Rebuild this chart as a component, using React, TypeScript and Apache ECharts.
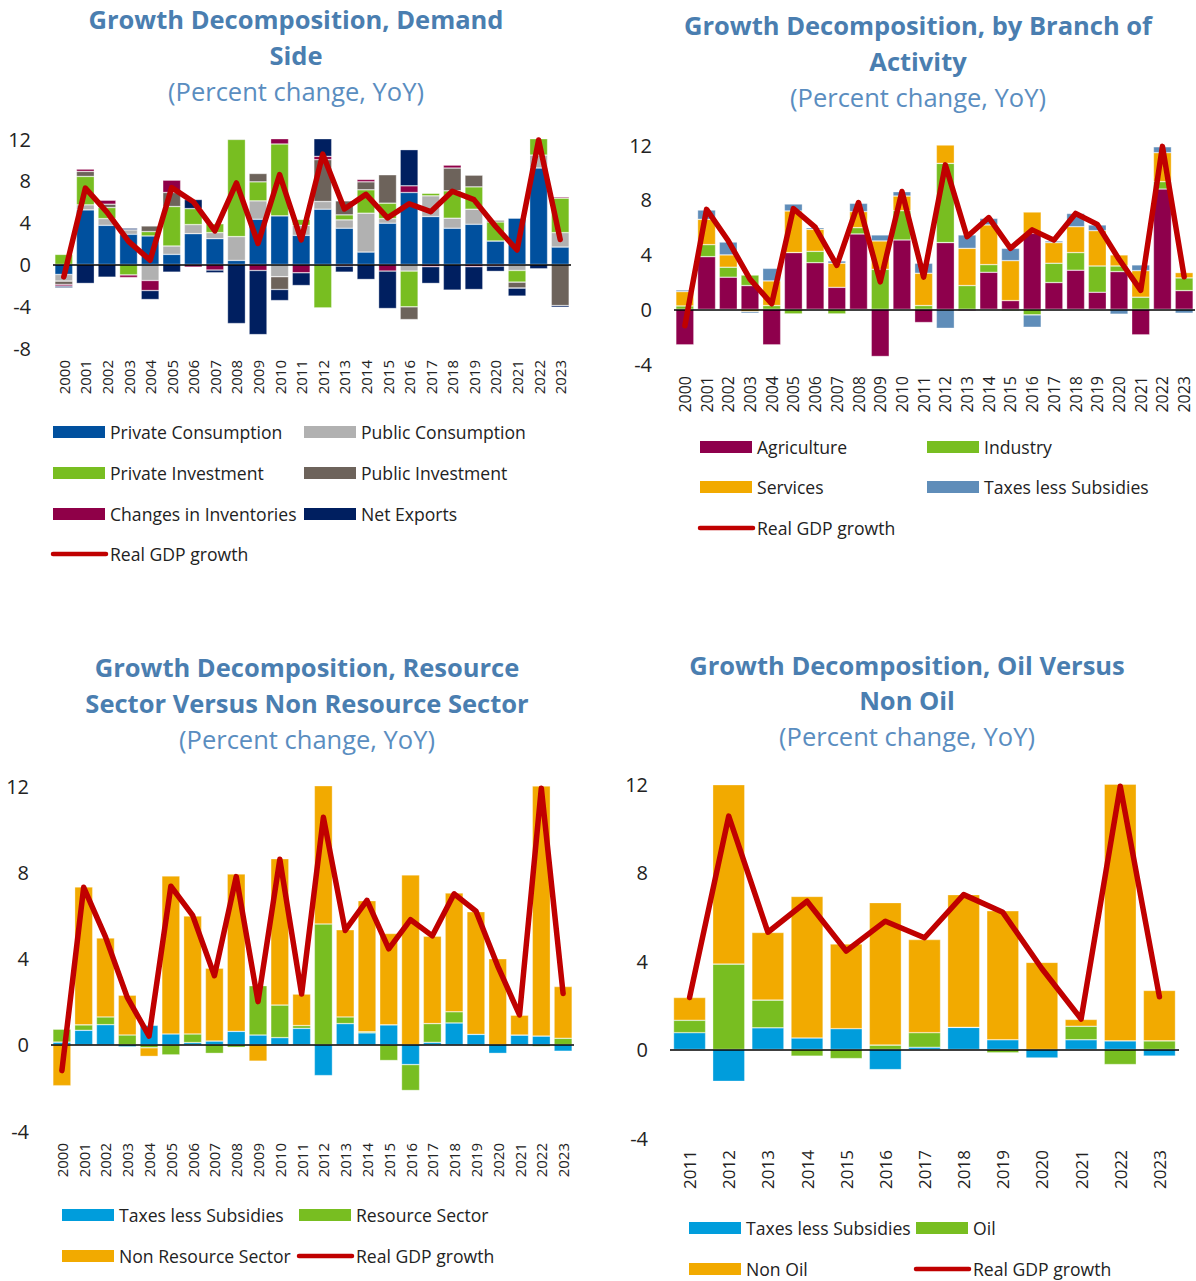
import React, { useEffect, useRef } from "react";
import * as echarts from "echarts";

const years = ["2000","2001","2002","2003","2004","2005","2006","2007","2008","2009","2010","2011","2012","2013","2014","2015","2016","2017","2018","2019","2020","2021","2022","2023"];
const yearsOil = ["2011","2012","2013","2014","2015","2016","2017","2018","2019","2020","2021","2022","2023"];

const gdpGrowth = [-1.2, 7.3, 5.0, 2.2, 0.4, 7.35, 6.0, 3.2, 7.8, 2.0, 8.6, 2.35, 10.55, 5.3, 6.7, 4.45, 5.8, 5.05, 7.0, 6.2, 3.65, 1.38, 11.9, 2.38];
const gdpGrowthOil = [2.35, 10.55, 5.3, 6.7, 4.45, 5.8, 5.05, 7.0, 6.2, 3.65, 1.38, 11.9, 2.38];

// Panel 1: demand side
const privateConsumption = [-0.96, 5.22, 3.74, 2.88, 2.72, 0.96, 2.94, 2.46, 0.38, 4.32, 4.64, 2.78, 5.28, 3.46, 1.18, 3.94, 6.88, 4.58, 3.46, 3.84, 2.24, 4.42, 9.22, 1.66];
const publicConsumption = [-0.64, 0.48, 0.64, 0.42, -1.54, 0.8, 0.87, 0.58, 2.28, 1.76, -1.18, 0.96, 0.74, 0.8, 3.72, 0.44, -0.64, 1.98, 0.96, 1.44, 0, -0.58, 1.24, 1.38];
const privateInvestment = [0.96, 2.72, 1.06, -1.02, 0.42, 3.78, 1.53, 0.86, 9.3, 1.82, 6.88, 0.58, -4.16, 0.48, 2.24, 1.48, -3.42, 0.26, 2.62, 2.14, 1.82, -1.12, 1.86, 3.3];
const publicInvestment = [-0.32, 0.48, 0.32, 0, 0.54, 1.34, 0, 0, 1.5, 0.8, -1.22, 0, 4.0, 1.34, 0.76, 2.72, -1.22, 0, 2.18, 1.12, 0.16, -0.57, 0, -3.94];
const changesInInventories = [-0.16, 0.22, 0.38, -0.23, -0.96, 1.18, -0.26, -0.54, 0, -0.58, 0.54, -0.8, 0.32, -0.16, 0.23, -0.64, 0.64, -0.22, 0.28, -0.22, -0.16, 0, 0, 0.12];
const netExports = [-0.16, -1.82, -1.22, 0.16, -0.86, -0.74, 0.87, -0.26, -5.66, -6.14, -1.06, -1.22, 4.32, -0.58, -1.44, -3.58, 3.46, -1.6, -2.46, -2.18, -0.51, -0.77, -0.42, -0.16];

// Panel 2: branch of activity
const agriculture = [-2.6, 3.84, 2.34, 1.73, -2.6, 4.14, 3.4, 1.6, 5.5, -3.45, 5.06, -0.97, 4.87, -0.1, 2.7, 0.63, 5.55, 1.95, 2.85, 1.24, 2.75, -1.87, 8.78, 1.36];
const industry = [0.24, 0.88, 0.73, 0.77, 0.27, -0.34, 0.83, -0.34, 0.46, 2.92, 2.14, 0.27, 5.79, 1.73, 0.56, -0.1, -0.41, 1.41, 1.29, 1.92, 0.41, 0.88, 0.54, 0.93];
const services = [1.05, 1.85, 0.9, -0.17, 1.8, 3.04, 1.61, 1.76, 1.17, 2.07, 1.07, 2.36, 1.34, 2.72, 2.9, 2.92, 1.55, 1.51, 1.89, 2.58, 0.81, 1.94, 2.12, 0.39];
const taxesBranch = [0.12, 0.68, 0.94, -0.12, 0.92, 0.51, 0.12, 0.17, 0.61, 0.44, 0.32, 0.73, -1.39, 0.98, 0.48, 0.9, -0.9, 0.12, 0.97, 0.42, -0.36, 0.42, 0.43, -0.29];

// Panel 3: resource vs non resource
const taxesResource = [0.12, 0.67, 0.93, -0.1, 0.9, 0.5, 0.1, 0.17, 0.62, 0.45, 0.33, 0.76, -1.43, 0.98, 0.55, 0.92, -0.92, 0.11, 1.01, 0.48, -0.4, 0.45, 0.4, -0.3];
const resourceSector = [0.6, 0.25, 0.36, 0.45, -0.14, -0.47, 0.4, -0.4, -0.12, 2.29, 1.51, 0.13, 5.6, 0.31, 0.05, -0.73, -1.2, 0.87, 0.52, -0.05, -0.03, 0, -0.08, 0.3];
const nonResourceSector = [-1.9, 6.4, 3.66, 1.85, -0.4, 7.33, 5.47, 3.38, 7.3, -0.76, 6.79, 1.46, 6.46, 4.04, 6.08, 4.24, 7.88, 4.05, 5.51, 5.69, 3.99, 0.92, 11.6, 2.4];

// Panel 4: oil vs non oil
const taxesOil = [0.76, -1.44, 0.98, 0.52, 0.94, -0.91, 0.1, 1.0, 0.44, -0.39, 0.44, 0.39, -0.3];
const oil = [0.56, 3.86, 1.25, -0.3, -0.41, 0.2, 0.66, 0, -0.15, 0, 0.61, -0.68, 0.39];
const nonOil = [1.03, 8.11, 3.06, 6.4, 3.83, 6.44, 4.21, 6.0, 5.83, 3.94, 0.31, 11.6, 2.28];

const FONT = "'Open Sans', 'Noto Sans', sans-serif";
const RED = "#C00000";
const TITLE_COLOR = "#4A7EB0";
const SUB_COLOR = "#5A8DC0";

const C = {
  privCons: "#00509E",
  pubCons: "#B1B1B1",
  privInv: "#78BE21",
  pubInv: "#6D635B",
  inv: "#8F0048",
  nx: "#001F60",
  agri: "#8E004C",
  ind: "#78BE21",
  serv: "#F2AA00",
  taxB: "#5F8DB9",
  taxC: "#009DDC",
  res: "#78BE21",
  nonRes: "#F2AA00",
};

export default function App() {
  const ref = useRef<HTMLDivElement>(null);
  useEffect(() => {
    if (!ref.current) return;
    const chart = echarts.init(ref.current, undefined, { renderer: "svg" });

    const grids = [
      { left: 53, top: 139, width: 518, height: 209 },
      { left: 674, top: 145, width: 521, height: 219 },
      { left: 51, top: 786, width: 523, height: 345 },
      { left: 670, top: 784, width: 509, height: 354 },
    ];
    const mins = [-8, -4, -4, -4];
    const xFont = [15, 16, 15, 17];

    const xAxis = grids.map((g, i) => ({
      type: "category",
      gridIndex: i,
      data: i === 3 ? yearsOil : years,
      axisLine: { show: false },
      axisTick: { show: false },
      axisLabel: { rotate: 90, fontSize: xFont[i], color: "#222", fontFamily: FONT, margin: 12, interval: 0 },
    }));
    const yAxis = grids.map((g, i) => ({
      type: "value",
      gridIndex: i,
      min: mins[i],
      max: 12,
      interval: 4,
      splitLine: { show: false },
      axisLine: { show: false },
      axisTick: { show: false },
      axisLabel: { fontSize: 20, color: "#222", fontFamily: FONT, margin: 22 },
    }));

    const barBase = (name: string, data: number[], color: string, idx: number, gap = "17%") => ({
      type: "bar",
      name,
      data,
      xAxisIndex: idx,
      yAxisIndex: idx,
      stack: "s" + idx,
      barCategoryGap: gap,
      itemStyle: { color, borderColor: "rgba(255,255,255,0.55)", borderWidth: 0.6 },
      z: 2,
    });
    const lineBase = (data: number[], idx: number) => ({
      type: "line",
      name: "Real GDP growth",
      data,
      xAxisIndex: idx,
      yAxisIndex: idx,
      symbol: "none",
      lineStyle: { color: RED, width: 5.5, join: "round", cap: "round" },
      itemStyle: { color: RED },
      z: 5,
      markLine: {
        silent: true,
        symbol: ["none", "none"],
        label: { show: false },
        lineStyle: { color: "#000", width: 1.5, type: "solid" },
        data: [{ yAxis: 0 }],
        z: 4,
      },
    });

    const series: any[] = [
      barBase("Private Consumption", privateConsumption, C.privCons, 0),
      barBase("Public Consumption", publicConsumption, C.pubCons, 0),
      barBase("Private Investment", privateInvestment, C.privInv, 0),
      barBase("Public Investment", publicInvestment, C.pubInv, 0),
      barBase("Changes in Inventories", changesInInventories, C.inv, 0),
      barBase("Net Exports", netExports, C.nx, 0),
      lineBase(gdpGrowth, 0),
      barBase("Agriculture", agriculture, C.agri, 1),
      barBase("Industry", industry, C.ind, 1),
      barBase("Services", services, C.serv, 1),
      barBase("Taxes less Subsidies", taxesBranch, C.taxB, 1),
      lineBase(gdpGrowth, 1),
      barBase("Taxes less Subsidies", taxesResource, C.taxC, 2),
      barBase("Resource Sector", resourceSector, C.res, 2),
      barBase("Non Resource Sector", nonResourceSector, C.nonRes, 2),
      lineBase(gdpGrowth, 2),
      barBase("Taxes less Subsidies", taxesOil, C.taxC, 3, "18%"),
      barBase("Oil", oil, C.res, 3, "18%"),
      barBase("Non Oil", nonOil, C.nonRes, 3, "18%"),
      lineBase(gdpGrowthOil, 3),
    ];

    const graphic: any[] = [];
    const titleText = (cx: number, ys: number[], lines: string[], sub: string) => {
      lines.forEach((t, k) => {
        graphic.push({
          type: "text",
          x: cx,
          y: ys[k],
          style: { text: t, fontSize: 25.5, fontWeight: "bold", fontFamily: FONT, fill: TITLE_COLOR, textAlign: "center", textVerticalAlign: "middle", verticalAlign: "middle" },
        });
      });
      graphic.push({
        type: "text",
        x: cx,
        y: ys[lines.length],
        style: { text: sub, fontSize: 25.5, fontFamily: FONT, fill: SUB_COLOR, textAlign: "center", textVerticalAlign: "middle", verticalAlign: "middle" },
      });
    };
    titleText(296, [19, 55, 91], ["Growth Decomposition, Demand", "Side"], "(Percent change, YoY)");
    titleText(918, [25, 61, 97], ["Growth Decomposition, by Branch of", "Activity"], "(Percent change, YoY)");
    titleText(307, [667, 703, 739], ["Growth Decomposition, Resource", "Sector Versus Non Resource Sector"], "(Percent change, YoY)");
    titleText(907, [665, 700, 736], ["Growth Decomposition, Oil Versus", "Non Oil"], "(Percent change, YoY)");

    const legendItem = (x: number, y: number, label: string, color: string | null) => {
      if (color) {
        graphic.push({ type: "rect", shape: { x, y: y - 6, width: 52, height: 12 }, style: { fill: color } });
      } else {
        graphic.push({ type: "line", shape: { x1: x, y1: y, x2: x + 53, y2: y }, style: { stroke: RED, lineWidth: 4.5, lineCap: "round" } });
      }
      graphic.push({
        type: "text",
        x: x + 57,
        y,
        style: { text: label, fontSize: 17.6, fontFamily: FONT, fill: "#222", textAlign: "left", textVerticalAlign: "middle", verticalAlign: "middle" },
      });
    };
    // Panel 1 legend
    legendItem(53, 432, "Private Consumption", C.privCons);
    legendItem(304, 432, "Public Consumption", C.pubCons);
    legendItem(53, 473, "Private Investment", C.privInv);
    legendItem(304, 473, "Public Investment", C.pubInv);
    legendItem(53, 514, "Changes in Inventories", C.inv);
    legendItem(304, 514, "Net Exports", C.nx);
    legendItem(53, 554, "Real GDP growth", null);
    // Panel 2 legend
    legendItem(700, 447, "Agriculture", C.agri);
    legendItem(927, 447, "Industry", C.ind);
    legendItem(700, 487, "Services", C.serv);
    legendItem(927, 487, "Taxes less Subsidies", C.taxB);
    legendItem(700, 528, "Real GDP growth", null);
    // Panel 3 legend
    legendItem(62, 1215, "Taxes less Subsidies", C.taxC);
    legendItem(299, 1215, "Resource Sector", C.res);
    legendItem(62, 1256, "Non Resource Sector", C.nonRes);
    legendItem(299, 1256, "Real GDP growth", null);
    // Panel 4 legend
    legendItem(689, 1228, "Taxes less Subsidies", C.taxC);
    legendItem(916, 1228, "Oil", C.res);
    legendItem(689, 1269, "Non Oil", C.nonRes);
    legendItem(916, 1269, "Real GDP growth", null);

    chart.setOption({
      animation: false,
      backgroundColor: "#fff",
      textStyle: { fontFamily: FONT },
      grid: grids,
      xAxis,
      yAxis,
      series,
      graphic,
    });
    return () => chart.dispose();
  }, []);

  return <div ref={ref} style={{ position: "absolute", left: 0, top: 0, width: 1196, height: 1281 }} />;
}
